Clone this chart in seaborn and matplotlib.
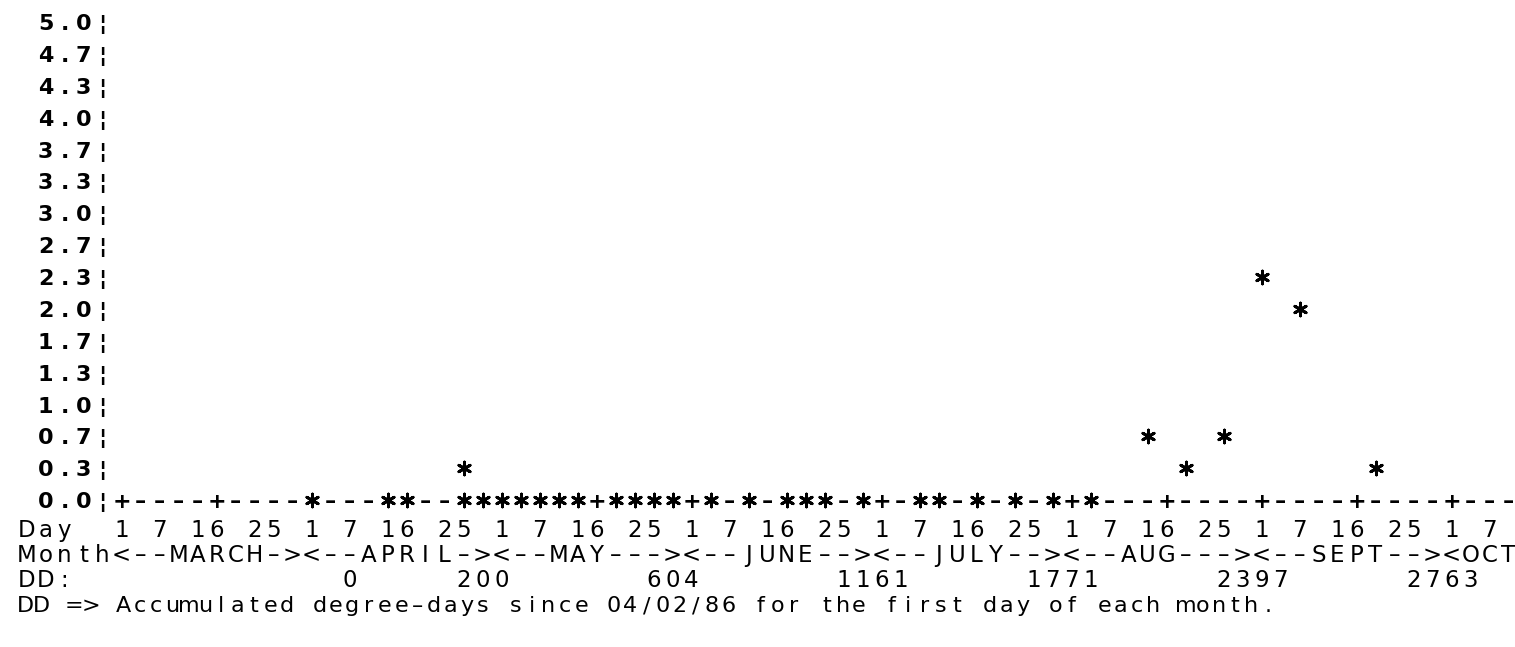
import numpy as np
import pandas as pd
import matplotlib
matplotlib.use("Agg")
import matplotlib.pyplot as plt
import seaborn as sns

# ---------------- data ----------------
y_tick_labels = ["0.0", "0.3", "0.7", "1.0", "1.3", "1.7", "2.0", "2.3",
                 "2.7", "3.0", "3.3", "3.7", "4.0", "4.3", "4.7", "5.0"]
day_labels = ["1", "7", "16", "25"]
months = ["MARCH", "APRIL", "MAY", "JUNE", "JULY", "AUG", "SEPT", "OCT"]
dd_values = ["0", "200", "604", "1161", "1771", "2397", "2763"]
footer = "DD => Accumulated degree-days since 04/02/86 for the first day of each month."

# axis position of each sample (one printer column ~ 3 days, 0 = March 1)
zero_cols = [10, 14, 15, 18, 19, 20, 21, 22, 23, 24, 26, 27, 28, 29, 31, 33,
             35, 36, 37, 39, 42, 43, 45, 47, 49, 51]
catch_cols = [18, 54, 56, 58, 60, 62, 66]
catch_vals = [0.33, 0.67, 0.33, 0.67, 2.33, 2.0, 0.33]

# ---------------- layout ----------------
FW, FH = 1515, 647
X0 = 17.0          # left edge of printer column 0 (px)
PITCH = 19.0       # printer column width (px)
Y_BASE = 500.0     # pixel row of value 0
ROW = 31.87        # pixel distance between printed rows
FONT = "DejaVu Sans"
AXIS_COL0 = 5      # printer column of axis position 0

sns.set_style("white")
fig = plt.figure(figsize=(FW / 100, FH / 100), dpi=100)
fig.patch.set_facecolor("white")


def put(s, col0, y_px, pitch=PITCH, x_origin=X0, weight="bold", size=16):
    cap = size * 100 / 72 * 0.73
    for i, ch in enumerate(s):
        if ch == " ":
            continue
        if ch == "-":
            ch = "\u2013"
        x = x_origin + (col0 + i) * pitch + pitch / 2
        fig.text(x / FW, 1 - (y_px + cap / 2) / FH, ch, ha="center",
                 va="baseline", fontsize=size, family=FONT,
                 fontweight=weight, color="black")


# data axes: x in axis columns, y in catch value
ax = fig.add_axes([0, 0, 1, 1])
ax.set_facecolor("none")
px_to_idx = lambda px: (px - X0 - PITCH / 2) / PITCH - AXIS_COL0
px_to_val = lambda py: (Y_BASE - py) / (3 * ROW)
ax.set_xlim(px_to_idx(0), px_to_idx(FW))
ax.set_ylim(px_to_val(FH), px_to_val(0))
ax.axis("off")

df = pd.concat([
    pd.DataFrame({"col": zero_cols, "catch": [0.0] * len(zero_cols)}),
    pd.DataFrame({"col": catch_cols, "catch": catch_vals}),
], ignore_index=True)
sns.scatterplot(data=df, x="col", y="catch", marker=(6, 2, 0), s=85,
                color="black", edgecolor="black", linewidth=2.1,
                legend=False, ax=ax)

# y axis labels
for k, lab in enumerate(y_tick_labels):
    put(lab + "\u00a6", 1, Y_BASE - k * ROW)

# baseline with ticks every 5 columns, skipping sampled columns
occupied = set(zero_cols)
n_axis = 74
for i in range(n_axis):
    if i in occupied:
        continue
    ch = "+" if i % 5 == 0 else "-"
    put(ch, AXIS_COL0 + i, Y_BASE)

# day row
day_row = "Day  " + (" ".join(day_labels) + " ") * 7 + "1 7"
put(day_row, 0, Y_BASE + 29, weight="normal", size=16.5)

# month row
month_row = "Month" + "".join("<--" + m.ljust(6, "-") + ">" for m in months[:-1]) + "<" + months[-1]
put(month_row, 0, Y_BASE + 54, weight="normal", size=16.5)

# degree-day row
put("DD:", 0, Y_BASE + 79, weight="normal", size=16.5)
dd_cols = [17, 23, 33, 43, 53, 63, 73]
for c, v in zip(dd_cols, dd_values):
    put(v, c, Y_BASE + 79, weight="normal", size=16.5)

# footer
put(footer, 0, Y_BASE + 104, pitch=16.35, weight="normal", size=16)

fig.savefig("out.png", dpi=100, facecolor="white")
